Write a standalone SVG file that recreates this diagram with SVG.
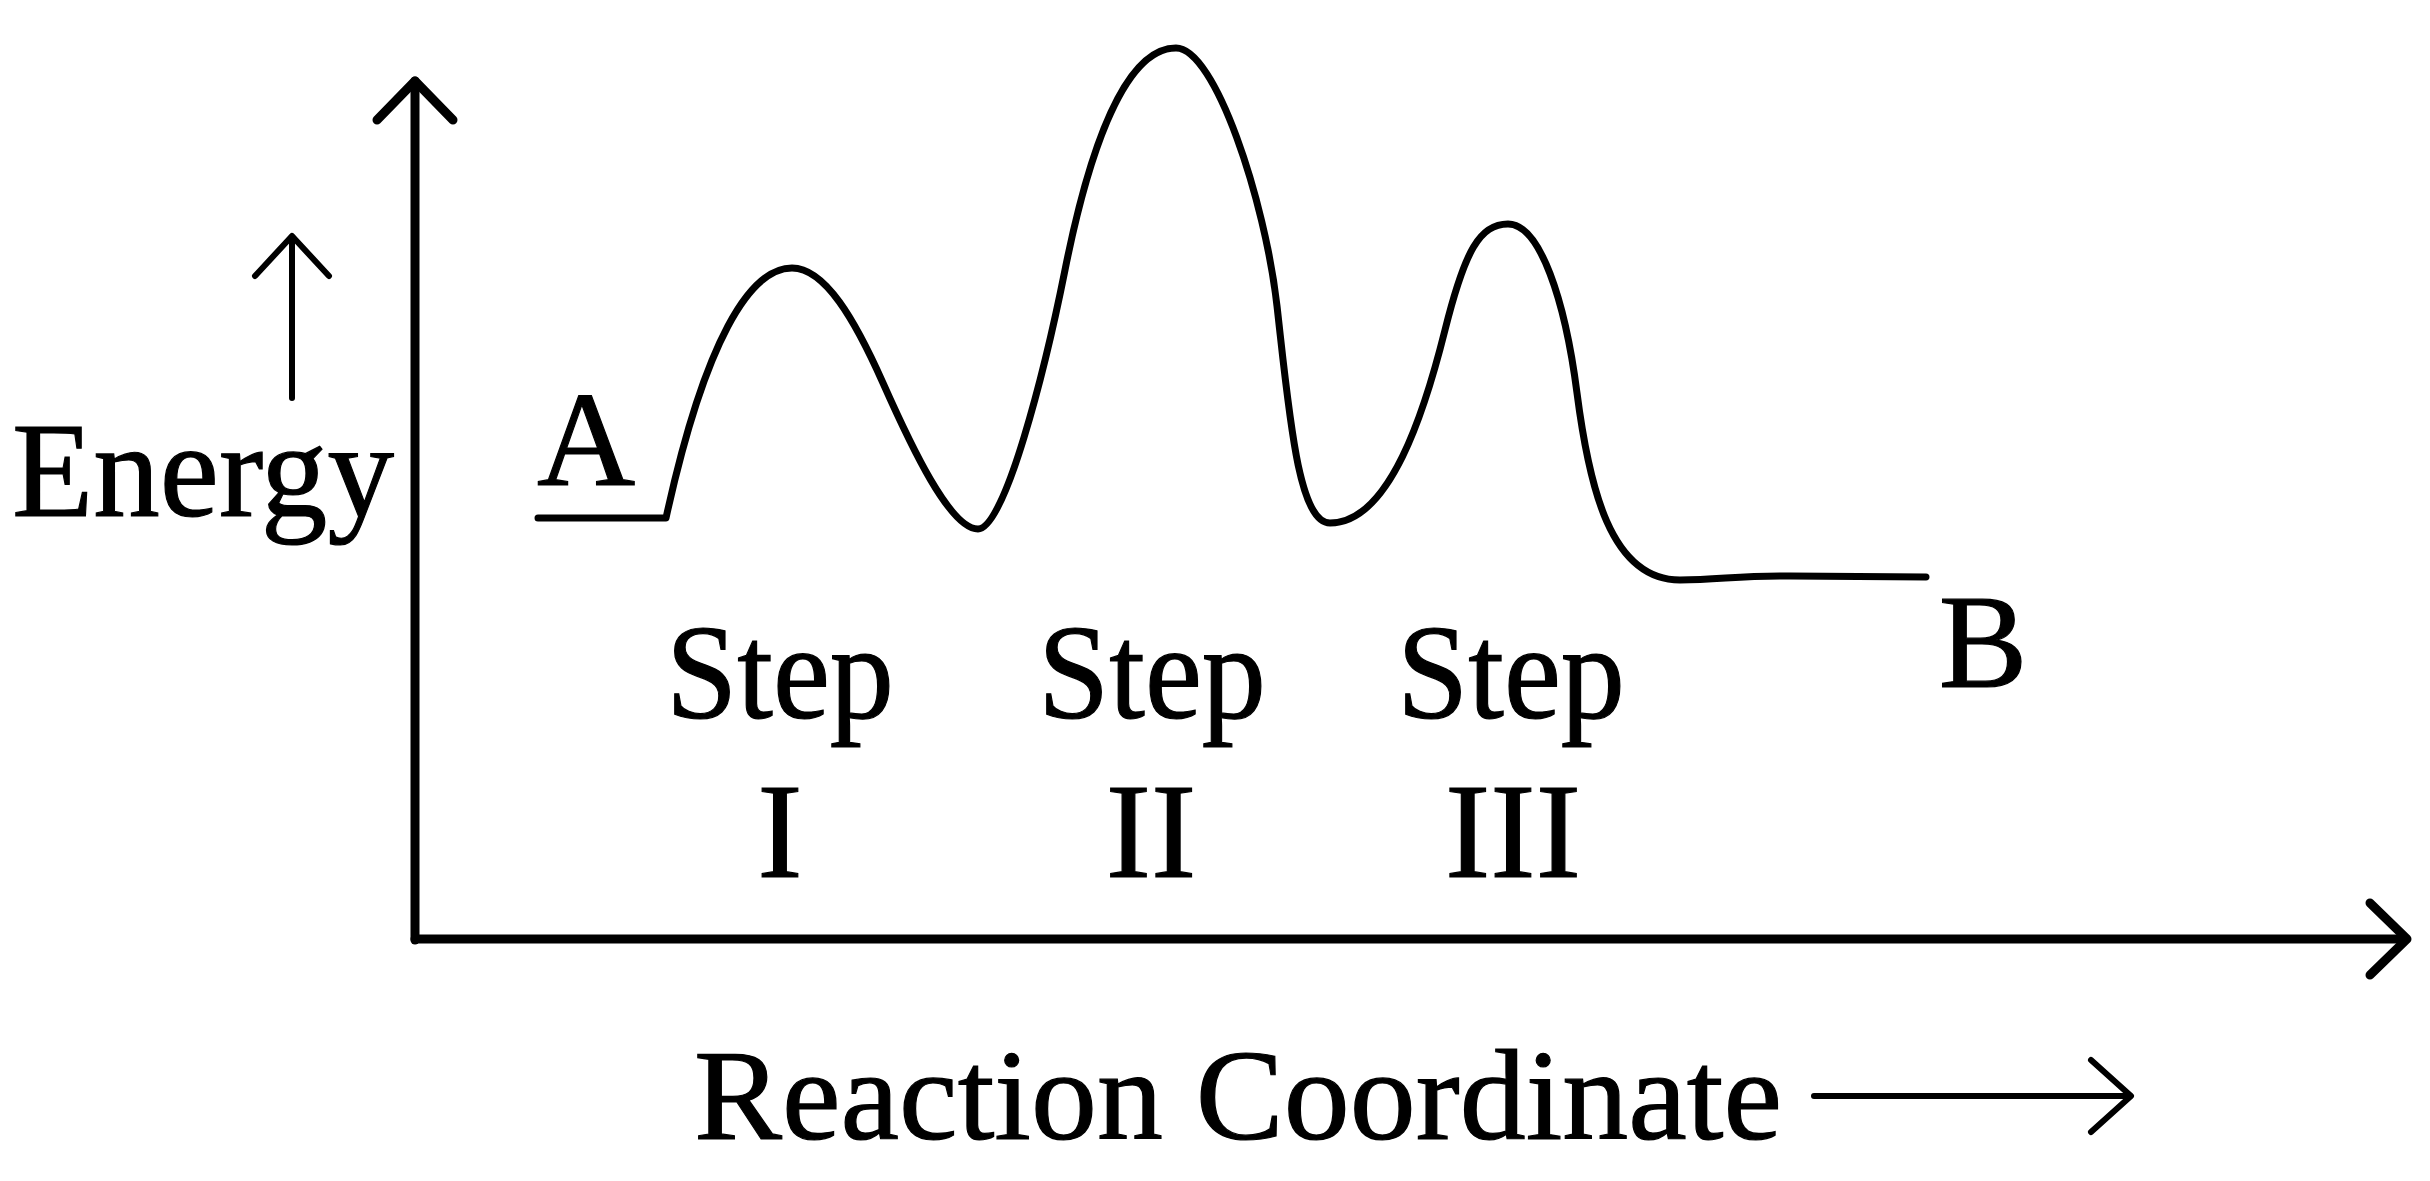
<svg xmlns="http://www.w3.org/2000/svg" width="2430" height="1181" viewBox="0 0 2430 1181">
<style>
.ln{fill:none;stroke:#000;stroke-linecap:round;stroke-linejoin:round}
.ax{stroke-width:9}
.cv{stroke-width:7}
.sm{stroke-width:6}
.t{font-family:"Liberation Serif","Times New Roman",serif;fill:#000;stroke:#000;stroke-width:1.2}
</style>
<rect width="2430" height="1181" fill="#fff"/>
<g id="connectors">
<g id="y-axis">
<path class="ln ax" d="M415,940 L415,81"/>
<path class="ln ax" d="M377,120 L415,81 L453,120"/>
</g>
<g id="x-axis">
<path class="ln ax" d="M415,939 L2406,939"/>
<path class="ln ax" d="M2370,903 L2407,939 L2370,975"/>
</g>
<g id="energy-arrow">
<path class="ln sm" d="M292,398 L292,237"/>
<path class="ln sm" d="M255,276 L292,236 L329,276"/>
</g>
<g id="coordinate-arrow">
<path class="ln sm" d="M1814,1096 L2130,1096"/>
<path class="ln sm" d="M2091,1060 L2131,1096 L2091,1132"/>
</g>
</g>
<g id="energy-curve">
<path class="ln cv" d="M538,518 L666,518 C705,340 750,268 792,268 C825,268 855,320 883,383 C911,446 950,529 978,529 C1005,529 1045,370 1065,270 C1085,170 1120,48 1176,48 C1215,48 1265,200 1277,306 C1289,412 1298,523 1330,523 C1390,523 1425,410 1445,330 C1465,250 1480,224 1508,224 C1540,224 1565,300 1577,393 C1589,486 1610,580 1680,580 C1720,580 1740,575 1790,576 L1926,577"/>
</g>
<g id="label-energy"><text class="t" x="12" y="516" font-size="136" textLength="382" lengthAdjust="spacingAndGlyphs">Energy</text></g>
<g id="label-A"><text class="t" x="586" y="485" font-size="136" text-anchor="middle">A</text></g>
<g id="label-B"><text class="t" x="1983" y="687" font-size="133" text-anchor="middle">B</text></g>
<g id="step-1">
<text class="t" x="780" y="718" font-size="136" text-anchor="middle" textLength="228" lengthAdjust="spacingAndGlyphs">Step</text>
<text class="t" x="780" y="877" font-size="136" text-anchor="middle">I</text>
</g>
<g id="step-2">
<text class="t" x="1152" y="718" font-size="136" text-anchor="middle" textLength="228" lengthAdjust="spacingAndGlyphs">Step</text>
<text class="t" x="1151" y="877" font-size="136" text-anchor="middle">II</text>
</g>
<g id="step-3">
<text class="t" x="1511" y="718" font-size="136" text-anchor="middle" textLength="228" lengthAdjust="spacingAndGlyphs">Step</text>
<text class="t" x="1513" y="877" font-size="136" text-anchor="middle">III</text>
</g>
<g id="label-reaction"><text class="t" x="694" y="1139" font-size="130" textLength="1088" lengthAdjust="spacingAndGlyphs">Reaction Coordinate</text></g>
</svg>
